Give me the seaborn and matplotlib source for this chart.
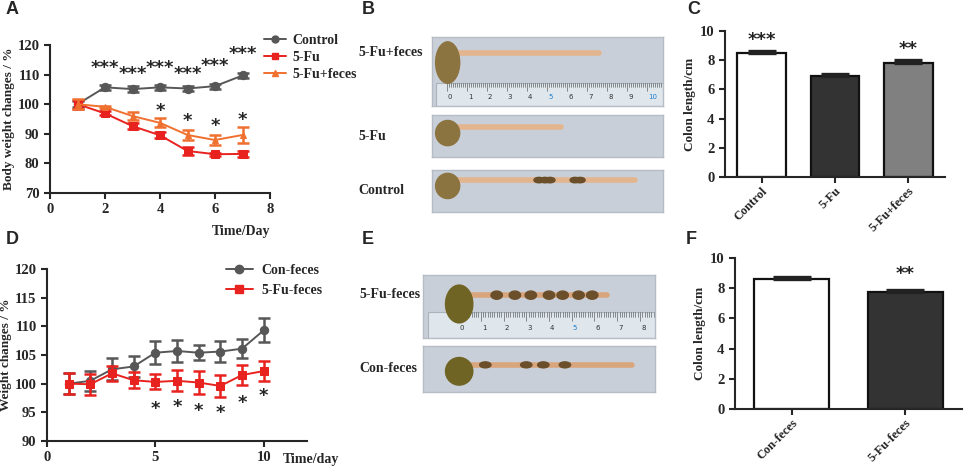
import numpy as np
import pandas as pd
import seaborn as sns
import matplotlib.pyplot as plt
from matplotlib.patches import Ellipse, Rectangle
from matplotlib.lines import Line2D

# ---- panel A: body weight, 5-Fu experiment ----
days_a = [1, 2, 3, 4, 5, 6, 7]
control_a = [100, 105.7, 105.1, 105.7, 105.3, 106.1, 109.7]
control_a_err = [1.0, 0.9, 0.9, 0.8, 0.8, 0.8, 0.9]
fu_a = [100, 96.9, 92.6, 89.5, 84.2, 83.1, 83.2]
fu_a_err = [1.5, 0.7, 1.0, 1.0, 1.3, 0.5, 0.9]
fufeces_a = [100, 99.1, 96.0, 93.7, 89.6, 87.9, 89.6]
fufeces_a_err = [1.6, 0.4, 1.3, 1.5, 1.6, 1.8, 2.7]
stars3_days = [2, 3, 4, 5, 6, 7]
stars3_y = [112.2, 110.3, 112.2, 110.3, 113.0, 117.0]
stars1a_days = [4, 5, 6, 7]
stars1a_y = [97.6, 94.2, 92.8, 94.8]

# ---- panel D: body weight, feces transplant ----
days_d = [1, 2, 3, 4, 5, 6, 7, 8, 9, 10]
confeces_d = [100, 100.5, 102.5, 103.0, 105.4, 105.7, 105.4, 105.6, 106.1, 109.3]
confeces_d_err = [1.8, 1.7, 1.9, 1.8, 2.0, 1.9, 1.3, 1.9, 1.7, 2.1]
fufeces_d = [100, 99.9, 101.8, 100.6, 100.3, 100.5, 100.2, 99.6, 101.5, 102.2]
fufeces_d_err = [1.8, 1.8, 1.3, 1.4, 1.3, 1.8, 2.0, 1.9, 1.8, 1.8]
stars1d_days = [5, 6, 7, 8, 9, 10]
stars1d_y = [95.6, 95.9, 95.2, 94.9, 96.6, 97.9]

# ---- panels C and F: colon length ----
groups_c = ['Control', '5-Fu', '5-Fu+feces']
length_c = [8.5, 6.95, 7.8]
length_c_err = [0.15, 0.1, 0.2]
stars_c = ['***', '', '**']
groups_f = ['Con-feces', '5-Fu-feces']
length_f = [8.6, 7.75]
length_f_err = [0.15, 0.12]
stars_f = ['', '**']

# ---- panels B and E: photo stand-ins (colon end on ruler, cm) ----
photo_b_labels = ['5-Fu+feces', '5-Fu', 'Control']
photo_b_end = [7.6, 5.7, 9.4]
photo_b_pellets = [[], [], [4.6, 4.9, 5.15, 6.4, 6.65]]
photo_e_labels = ['5-Fu-feces', 'Con-feces']
photo_e_end = [6.55, 7.65]
photo_e_pellets = [[1.7, 2.5, 3.2, 4.0, 4.6, 5.3, 5.9], [1.2, 3.0, 3.75, 4.7]]

W, H = 964, 467
sns.set_style('ticks')
plt.rcParams['font.family'] = ['Liberation Serif', 'DejaVu Serif']
plt.rcParams['font.weight'] = 'bold'
plt.rcParams['axes.labelweight'] = 'bold'
plt.rcParams['axes.linewidth'] = 1.5
plt.rcParams['xtick.major.width'] = 1.5
plt.rcParams['ytick.major.width'] = 1.5
plt.rcParams['xtick.major.size'] = 4
plt.rcParams['ytick.major.size'] = 4
plt.rcParams['xtick.labelsize'] = 10.5
plt.rcParams['ytick.labelsize'] = 10.5

fig = plt.figure(figsize=(W / 100, H / 100), dpi=100)


def px_axes(l, t, r, b):
    return fig.add_axes([l / W, 1 - b / H, (r - l) / W, (b - t) / H])


def panel_letter(x, y, s):
    fig.text(x / W, 1 - y / H, s, family='Liberation Sans', weight='bold',
             fontsize=13, va='center', ha='left')


GRAY = '#575757'
RED = '#e8221e'
ORANGE = '#f07030'


def weight_series(ax, x, y, err, color, marker, ms, label):
    sns.lineplot(x=x, y=y, ax=ax, color=color, marker=marker, markersize=ms,
                 markeredgecolor=color, linewidth=1.4, label=label, legend=False)
    ax.errorbar(x, y, yerr=err, fmt='none', ecolor=color, elinewidth=1.8,
                capsize=4, capthick=1.8)


# ---------------- A ----------------
axA = px_axes(50, 45, 270, 193)
weight_series(axA, days_a, control_a, control_a_err, GRAY, 'o', 6, 'Control')
weight_series(axA, days_a, fu_a, fu_a_err, RED, 's', 6, '5-Fu')
weight_series(axA, days_a, fufeces_a, fufeces_a_err, ORANGE, '^', 5, '5-Fu+feces')
for d, y in zip(stars3_days, stars3_y):
    axA.text(d, y, '***', ha='center', va='center', fontsize=13, family='DejaVu Sans')
for d, y in zip(stars1a_days, stars1a_y):
    axA.text(d, y, '*', ha='center', va='center', fontsize=13, family='DejaVu Sans')
axA.set_xlim(0, 8)
axA.set_ylim(70, 120)
axA.set_xticks([0, 2, 4, 6, 8])
axA.set_yticks(range(70, 121, 10))
axA.set_ylabel('Body weight changes / %', fontsize=9.5, labelpad=2)
axA.set_xlabel('Time/Day', fontsize=10, loc='right', labelpad=6)
sns.despine(ax=axA)
hA = [Line2D([], [], color=GRAY, marker='o', ms=5, lw=1.4),
      Line2D([], [], color=RED, marker='s', ms=5, lw=1.4),
      Line2D([], [], color=ORANGE, marker='^', ms=5, lw=1.4)]
axA.legend(hA, ['Control', '5-Fu', '5-Fu+feces'], loc='upper left',
           bbox_to_anchor=(258 / W, 1 - 28 / H), bbox_transform=fig.transFigure,
           frameon=False, fontsize=10, handlelength=1.6, labelspacing=0.3,
           handletextpad=0.5, borderaxespad=0)
panel_letter(6, 9, 'A')

# ---------------- D ----------------
axD = px_axes(47, 269, 307, 441)
weight_series(axD, days_d, confeces_d, confeces_d_err, GRAY, 'o', 6, 'Con-feces')
weight_series(axD, days_d, fufeces_d, fufeces_d_err, RED, 's', 6, '5-Fu-feces')
for d, y in zip(stars1d_days, stars1d_y):
    axD.text(d, y, '*', ha='center', va='center', fontsize=13, family='DejaVu Sans')
axD.set_xlim(0, 12)
axD.set_ylim(90, 120)
axD.set_xticks([0, 5, 10])
axD.set_yticks(range(90, 121, 5))
axD.set_ylabel('Weight changes / %', fontsize=9.5, labelpad=2)
sns.despine(ax=axD)
fig.text(283 / W, 1 - 459 / H, 'Time/day', fontsize=10, va='center', ha='left')
hD = [Line2D([], [], color=GRAY, marker='o', ms=6, lw=1.4),
      Line2D([], [], color=RED, marker='s', ms=6, lw=1.4)]
axD.legend(hD, ['Con-feces', '5-Fu-feces'], loc='upper left',
           bbox_to_anchor=(220 / W, 1 - 258 / H), bbox_transform=fig.transFigure,
           frameon=False, fontsize=10, handlelength=2.0, labelspacing=0.5,
           handletextpad=0.6, borderaxespad=0)
panel_letter(6, 240, 'D')


# ---------------- C and F ----------------
def colon_bars(ax, groups, vals, errs, colors, stars, star_pad, cap):
    df = pd.DataFrame({'group': groups, 'length': vals})
    sns.barplot(data=df, x='group', y='length', hue='group', palette=colors,
                ax=ax, width=0.66, edgecolor='#111111', linewidth=1.6,
                legend=False, errorbar=None)
    x = np.arange(len(groups))
    ax.errorbar(x, vals, yerr=[np.zeros(len(errs)), errs], fmt='none',
                ecolor='#222222', elinewidth=1.6, capsize=cap, capthick=2.4)
    for xi, v, e, s in zip(x, vals, errs, stars):
        if s:
            ax.text(xi, v + e + star_pad, s, ha='center', va='center',
                    fontsize=13, family='DejaVu Sans', color='#222222')
    ax.set_xlim(-0.5, len(groups) - 0.5)
    ax.set_ylim(0, 10)
    ax.set_yticks(range(0, 11, 2))
    ax.set_xlabel('')
    ax.set_ylabel('Colon length/cm', fontsize=9.5, labelpad=3)
    ax.tick_params(axis='x', labelsize=9, pad=2)
    for lab in ax.get_xticklabels():
        lab.set_rotation(45)
        lab.set_ha('right')
        lab.set_rotation_mode('anchor')
    sns.despine(ax=ax)


axC = px_axes(725, 31, 945, 177)
colon_bars(axC, groups_c, length_c, length_c_err, ['white', '#333333', '#808080'],
           stars_c, 0.75, 10)
panel_letter(687, 9, 'C')

axF = px_axes(735, 258, 962, 409)
colon_bars(axF, groups_f, length_f, length_f_err, ['white', '#333333'],
           stars_f, 1.05, 14)
panel_letter(686, 240, 'F')


# ---------------- B and E (photo stand-ins) ----------------
def colon_photo(ax, xlim, end, pellets, colon_y, ruler_top, ruler_nums, dark):
    ax.set_xlim(*xlim)
    ax.set_ylim(0, 1)
    ax.set_facecolor('#c9cfd8')
    for s in ax.spines.values():
        s.set_color('#b5bcc6')
        s.set_linewidth(1)
    ax.set_xticks([])
    ax.set_yticks([])
    if ruler_top:
        ax.add_patch(Rectangle((xlim[0] + 0.2, 0), xlim[1] - xlim[0], ruler_top,
                               facecolor='#dfe6ec', edgecolor='#aab2bb', lw=0.8))
        for t in np.arange(0, xlim[1], 0.1):
            h = 0.35 if abs(t - round(t)) < 1e-6 else 0.18
            ax.plot([t, t], [ruler_top * (1 - h), ruler_top], color='#444', lw=0.4)
        for n in ruler_nums:
            ax.text(n + 0.05, ruler_top * 0.38, str(n), fontsize=5,
                    color='#1e7fd0' if n in (5, 10) else '#333',
                    family='DejaVu Sans', weight='normal', ha='left', va='center')
    body = '#e3b58e' if not dark else '#d9a57c'
    ax.plot([0.2, end], [colon_y, colon_y], color=body, lw=4, zorder=3,
            solid_capstyle='round')
    for p in pellets:
        ax.add_patch(Ellipse((p, colon_y), 0.5, 0.13, color='#6b4f2a', zorder=4))
    ax.add_patch(Ellipse((0.05, colon_y - 0.14), 1.2, 0.6, zorder=5,
                         color='#8c7440' if not dark else '#6f6424'))


b_rows = [(37, 106, 0.77, 0.33), (115, 157, 0.71, 0), (170, 212, 0.76, 0)]
for (t, b, cy, rt), lab, end, pel in zip(b_rows, photo_b_labels, photo_b_end,
                                        photo_b_pellets):
    ax = px_axes(432, t, 663, b)
    colon_photo(ax, (-0.73, 10.78), end, pel, cy, rt, range(0, 11), False)
    fig.text(358 / W, 1 - (t + 16 if rt else (t + b) / 2) / H, lab,
             fontsize=10, va='center', ha='left')
panel_letter(362, 9, 'B')

e_rows = [(275, 338, 0.68, 0.41), (346, 392, 0.59, 0)]
for (t, b, cy, rt), lab, end, pel in zip(e_rows, photo_e_labels, photo_e_end,
                                        photo_e_pellets):
    ax = px_axes(423, t, 655, b)
    colon_photo(ax, (-1.54, 8.66), end, pel, cy, rt, range(0, 9), True)
    fig.text(359 / W, 1 - (t + 20 if rt else (t + b) / 2) / H, lab,
             fontsize=10, va='center', ha='left')
panel_letter(362, 240, 'E')

fig.savefig('out.png', dpi=100)
